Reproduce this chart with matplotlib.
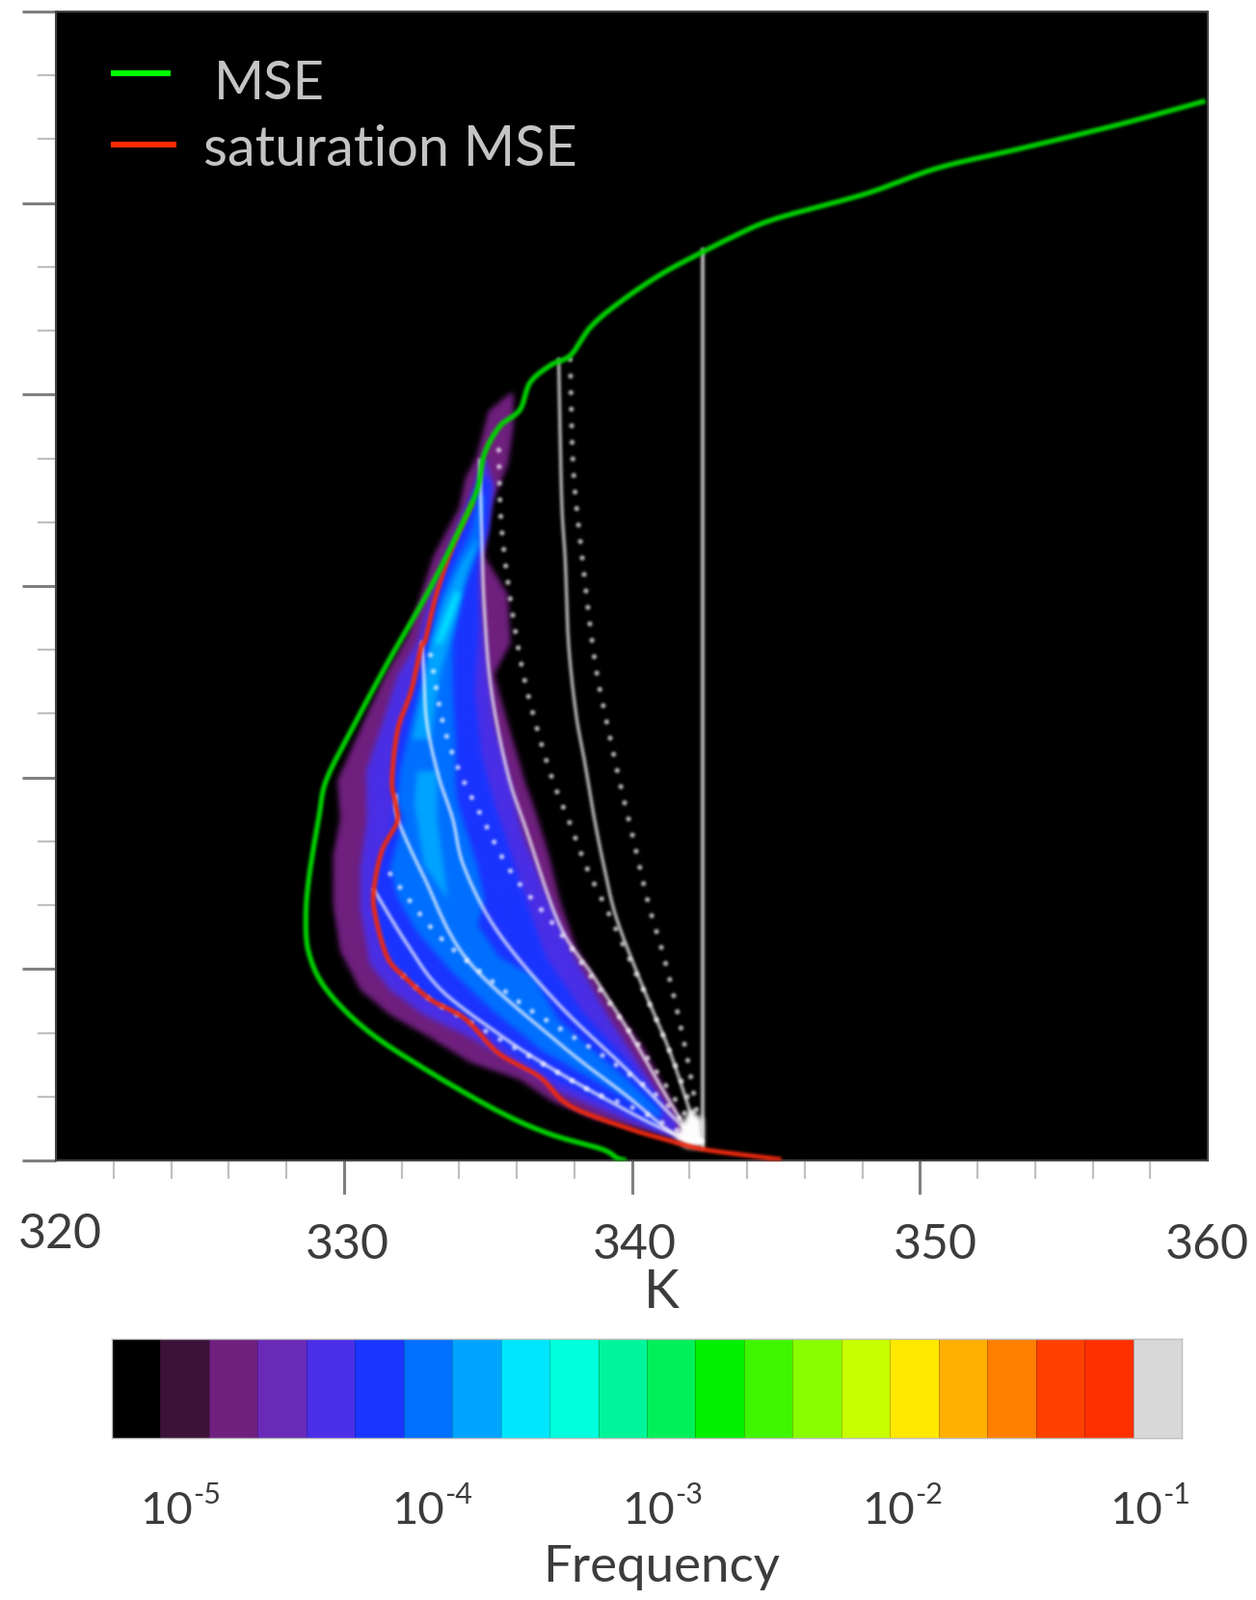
import numpy as np
import matplotlib
matplotlib.use("Agg")
import matplotlib.pyplot as plt
from matplotlib.colors import ListedColormap

plt.rcParams['font.family'] = ['Lato', 'DejaVu Sans']

W, H = 1303, 1660

# ---- curves: temperature-like energy (K) against height (km) ----
mse_k = [359.83,357.0,353.46,350.63,348.15,344.96,343.55,342.49,341.07,339.65,338.59,337.88,337.18,336.47,336.11,335.41,334.88,334.63,334.0,332.93,331.51,330.27,329.39,329.14,328.79,328.68,328.79,329.39,330.80,332.93,335.41,337.18,338.95,339.48,339.72]
mse_km = [16.59,16.24,15.85,15.55,15.15,14.75,14.48,14.24,13.90,13.47,13.07,12.62,12.46,12.19,11.76,11.50,11.07,10.51,9.87,8.91,7.79,6.75,5.96,5.40,4.44,3.80,3.24,2.68,2.04,1.40,0.76,0.41,0.18,0.04,0.01]

sat_k = [334.45,333.78,333.21,332.84,332.68,332.34,331.87,331.67,331.79,331.84,331.32,331.04,331.09,331.50,332.07,333.01,334.21,335.37,336.79,337.83,339.83,341.24,342.54,345.12]
sat_km = [10.29,9.62,8.87,8.17,8.04,7.36,6.75,5.95,5.60,5.30,4.85,4.24,3.84,3.19,2.89,2.52,2.22,1.68,1.31,0.86,0.51,0.32,0.17,0.02]

# solid plume profiles
plume0_k = [342.47,342.47]
plume0_km = [14.27,0.2]
plume1_k = [337.46,337.56,337.69,337.80,338.06,338.36,338.70,339.06,339.47,340.37,341.34,342.17,342.4]
plume1_km = [12.55,10.38,9.38,8.11,7.0,6.25,5.35,4.55,3.79,2.73,1.68,0.56,0.3]
plume2_k = [334.72,334.78,334.88,335.12,335.69,336.32,337.49,338.66,339.83,341.0,341.94,342.4]
plume2_km = [10.97,9.88,8.63,7.36,6.06,5.20,3.69,2.89,2.07,1.16,0.47,0.3]
plume3_k = [332.71,332.78,332.88,333.28,333.78,334.18,335.35,337.49,339.83,341.57,342.4]
plume3_km = [8.11,7.61,6.86,6.03,5.35,4.59,3.58,2.43,1.42,0.62,0.3]
plume4_k = [331.81,331.87,332.78,334.31,337.49,339.83,341.47,342.4]
plume4_km = [5.72,5.35,4.44,3.13,1.83,1.01,0.41,0.3]
plume5_k = [331.04,332.21,333.38,335.38,336.89,338.66,341.0,342.4]
plume5_km = [4.24,3.38,2.67,1.98,1.53,1.07,0.51,0.3]

# dotted plume profiles
dot1_k = [337.86,337.96,338.23,338.70,339.13,339.63,340.03,340.57,341.04,341.47,341.94,342.31]
dot1_km = [12.55,10.89,9.62,7.87,6.86,5.83,5.08,4.03,3.31,2.55,1.57,0.62]
dot2_k = [335.38,335.45,335.69,336.12,336.56,337.22,337.86,338.46,339.23,340.40,341.34,342.17]
dot2_km = [11.13,10.08,9.08,7.87,7.01,6.0,5.27,4.56,3.84,2.67,1.68,0.71]
dot3_k = [333.01,333.44,334.01,334.78,335.85,337.49,338.90,340.07,341.94]
dot3_km = [7.92,6.86,6.10,5.39,4.49,3.58,2.67,1.92,0.66]
dot4_k = [331.61,332.68,333.71,336.09,337.49,339.23,341.0,341.94]
dot4_km = [4.49,3.84,3.34,2.48,2.07,1.57,0.97,0.51]
dot5_k = [332.07,333.01,334.18,337.26,338.66,340.07,341.57]
dot5_km = [2.89,2.52,2.22,1.42,1.07,0.82,0.47]

# frequency regions: outlines (K, km)
purple_k = [335.69,335.02,334.62,334.21,334.01,333.11,332.68,332.21,331.44,330.77,329.77,329.87,329.63,329.63,329.87,330.57,331.61,333.01,334.41,336.09,337.26,338.66,341.0,341.97,
            341.57,340.40,339.23,338.06,337.49,337.12,336.56,336.35,335.69,335.22,335.79,335.69,334.88,335.12,335.69,335.89,335.89]
purple_km = [11.99,11.74,11.04,10.68,10.23,9.47,8.87,8.22,7.61,6.96,5.95,5.35,4.79,3.99,3.28,2.67,2.28,1.92,1.53,1.27,0.92,0.66,0.41,0.29,
             0.77,1.77,2.48,3.34,4.09,4.79,5.60,5.85,6.86,7.61,8.11,8.87,9.47,10.29,10.89,11.50,12.04]
indigo_k = [334.78,334.55,333.68,333.01,332.54,331.87,331.34,330.77,330.80,330.57,330.57,330.90,331.61,332.78,334.41,335.72,337.49,339.83,341.57,
            341.57,340.54,339.23,337.96,337.02,336.19,335.69,335.22,335.02,334.78,334.72,334.78,335.22,334.95]
indigo_km = [10.98,10.48,9.47,8.87,8.11,7.61,6.86,6.10,5.35,4.59,3.94,3.08,2.67,2.28,1.92,1.57,1.07,0.62,0.32,
             0.62,1.31,2.22,3.23,4.18,5.15,6.10,6.86,7.61,8.63,9.12,9.47,10.53,10.98]
blue_k = [334.72,334.11,333.55,333.21,332.88,332.54,332.21,331.77,331.67,331.74,331.61,331.14,331.04,331.27,331.84,333.01,334.65,335.72,337.49,339.23,341.0,
          341.0,339.83,338.29,337.02,336.39,335.79,335.22,334.78,334.55,334.68,334.68,335.02,335.12]
blue_km = [10.74,10.08,9.47,8.87,8.22,7.61,7.11,6.36,5.85,5.60,5.20,4.59,4.09,3.49,2.98,2.52,2.13,1.72,1.22,0.86,0.47,
           0.92,1.57,2.33,3.19,3.99,4.85,5.60,6.36,7.36,8.37,9.38,9.88,10.63]
azure_k = [334.72,334.45,333.78,333.34,333.01,332.78,332.34,331.94,331.84,332.07,331.61,331.84,332.54,333.71,335.12,336.89,339.23,341.0,
           341.0,339.83,338.66,337.49,336.56,335.38,334.65,334.88,334.65,333.95,333.88,333.88,333.78,333.78,334.11,334.68,334.88]
azure_km = [10.48,9.88,9.27,8.78,8.11,7.61,6.86,6.10,5.60,5.35,4.59,4.14,3.58,2.98,2.37,1.72,1.12,0.66,
            0.77,1.27,1.72,2.18,2.89,3.19,3.69,4.09,4.59,5.60,5.85,6.60,7.36,8.11,8.87,9.62,10.38]
sky_upper_k = [334.68,334.11,333.44,333.01,332.78,332.37,333.01,333.34,333.88,334.21,334.68]
sky_upper_km = [9.77,9.38,8.72,8.11,7.46,6.60,6.60,7.61,8.47,9.12,9.68]
sky_lower_k = [332.54,333.24,333.24,333.61,332.78,332.44]
sky_lower_km = [6.10,6.10,5.35,4.09,4.64,5.60]
cyan_k = [333.85,333.51,333.18,333.38,333.78,334.05]
cyan_km = [8.90,8.52,8.10,8.10,8.52,8.90]
peak_k = [342.47,342.47,342.0,341.5,341.9]
peak_km = [0.2,0.65,0.8,0.35,0.2]

# ---- labels ----
x_major = [330, 340, 350]
x_tick_labels = ['320', '330', '340', '350', '360']
freq_labels = ['-5', '-4', '-3', '-2', '-1']
cbar_colors = ['#000000','#3c1238','#70207f','#6a2ab8','#4a2fe6','#1a35ff','#0070ff','#00a4ff',
               '#00e6ff','#00ffdc','#00f59a','#00f05a','#00f000','#40f500','#88ff00','#c8ff00',
               '#ffe800','#ffb000','#ff7f00','#ff4000','#ff3000','#d8d8d8']


def rounded(xs, ys, n=12):
    """Round the corners of a read-off polyline for drawing; it still passes through each value."""
    p = np.column_stack([xs, ys]).astype(float)
    if len(p) < 3:
        return p[:, 0], p[:, 1]
    q = np.vstack([2 * p[0] - p[1], p, 2 * p[-1] - p[-2]])
    t = np.linspace(0, 1, n, endpoint=False)[:, None]
    out = []
    for i in range(1, len(q) - 2):
        a, b, c, d = q[i - 1], q[i], q[i + 1], q[i + 2]
        out.append(0.5 * (2 * b + (c - a) * t + (2 * a - 5 * b + 4 * c - d) * t ** 2 + (3 * b - a - 3 * c + d) * t ** 3))
    out.append(p[-1:])
    out = np.vstack(out)
    return out[:, 0], out[:, 1]


def make_blur(sigma_px):
    r = int(np.ceil(3 * sigma_px))
    kernel = np.exp(-0.5 * (np.arange(-r, r + 1) / sigma_px) ** 2)
    kernel /= kernel.sum()

    def conv(a, axis):
        a = np.moveaxis(a, axis, -1)
        n = a.shape[-1] + 2 * r
        f = np.fft.rfft(a, n=n, axis=-1) * np.fft.rfft(kernel, n=n)
        out = np.fft.irfft(f, n=n, axis=-1)[..., r:r + a.shape[-1]]
        return np.moveaxis(out, -1, axis)

    def flt(img, dpi):
        pad = 2 * r
        p = np.pad(img, ((pad, pad), (pad, pad), (0, 0)))
        a = p[..., 3:4]
        pm = np.concatenate([p[..., :3] * a, a], axis=2)
        pm = conv(conv(pm, 0), 1)
        al = np.clip(pm[..., 3:4], 0, 1)
        rgb = np.clip(pm[..., :3] / np.maximum(al, 1e-4), 0, 1)
        return np.concatenate([rgb, al], axis=2), -pad, -pad
    return flt


def fx(px):
    return px / W


def fy(py):
    return 1 - py / H


fig = plt.figure(figsize=(W / 100, H / 100), dpi=100, facecolor='white')
ax = fig.add_axes([fx(58), fy(1204), fx(1253) - fx(58), fy(12) - fy(1204)], facecolor='black')
ax.set_xlim(320, 360)
ax.set_ylim(0, 18)
ax.set_xticks(x_major)
ax.set_xticks(np.arange(322, 360, 2), minor=True)
ax.set_yticks(np.arange(0, 19, 3))
ax.set_yticks(np.arange(0, 19, 1), minor=True)
ax.tick_params(which='major', length=25, width=2.2, color='#808080', labelbottom=False, labelleft=False)
ax.tick_params(which='minor', length=14, width=1.6, color='#c0c0c0')
for s in ax.spines.values():
    s.set_color('#444444')
    s.set_linewidth(1.5)

field_blur = make_blur(2.8)
line_blur = make_blur(1.4)

layers = [(purple_k, purple_km, cbar_colors[2]), (indigo_k, indigo_km, cbar_colors[4]),
          (blue_k, blue_km, cbar_colors[5]), (azure_k, azure_km, cbar_colors[6]),
          (sky_upper_k, sky_upper_km, cbar_colors[7]), (sky_lower_k, sky_lower_km, cbar_colors[7]),
          (cyan_k, cyan_km, cbar_colors[8]), (peak_k, peak_km, '#ffffff')]
for xs, ys, c in layers:
    for p in ax.fill(xs, ys, color=c, lw=0, zorder=2):
        p.set_agg_filter(field_blur)

solid = [(plume1_k, plume1_km), (plume2_k, plume2_km), (plume3_k, plume3_km),
         (plume4_k, plume4_km), (plume5_k, plume5_km)]
for xs, ys in solid:
    l, = ax.plot(*rounded(xs, ys), color='white', alpha=0.72, lw=2.5, zorder=3, solid_joinstyle='round')
    l.set_agg_filter(line_blur)
l, = ax.plot(plume0_k, plume0_km, color='white', alpha=0.75, lw=2.8, zorder=3)
l.set_agg_filter(line_blur)

dotted = [(dot1_k, dot1_km), (dot2_k, dot2_km), (dot3_k, dot3_km), (dot4_k, dot4_km), (dot5_k, dot5_km)]
for xs, ys in dotted:
    l, = ax.plot(*rounded(xs, ys), color='white', alpha=0.75, lw=3.8, zorder=3,
                 linestyle=(0, (0.01, 3.25)), dash_capstyle='round')
    l.set_agg_filter(line_blur)

l, = ax.plot(*rounded(sat_k, sat_km), color='#ee2a10', lw=3.4, zorder=4, solid_joinstyle='round')
l.set_agg_filter(line_blur)
l, = ax.plot(*rounded(mse_k, mse_km), color='#00d400', lw=3.8, zorder=5, solid_joinstyle='round')
l.set_agg_filter(line_blur)

# legend
ax.plot([0.0475, 0.0995], [0.9465, 0.9465], transform=ax.transAxes, color='#00ff00', lw=4.4, solid_capstyle='butt', zorder=6)
ax.plot([0.0475, 0.1045], [0.8845, 0.8845], transform=ax.transAxes, color='#ff2a00', lw=4.4, solid_capstyle='butt', zorder=6)
fig.text(fx(222), fy(103), 'MSE', color='#c4c4c4', fontsize=40.5, ha='left', va='baseline', zorder=7)
fig.text(fx(211), fy(172), 'saturation MSE', color='#c4c4c4', fontsize=41.5, ha='left', va='baseline', zorder=7)

# axis texts
x_label_px = [(62, 1295), (360, 1306), (658, 1306), (970, 1306), (1252, 1306)]
for (px, py), t in zip(x_label_px, x_tick_labels):
    fig.text(fx(px), fy(py), t, fontsize=36, color='#3c3c3c', ha='center', va='baseline')
fig.text(fx(686), fy(1357), 'K', fontsize=40, color='#3c3c3c', ha='center', va='baseline')

# colour bar
cax = fig.add_axes([fx(116), fy(1492), fx(1226) - fx(116), fy(1389) - fy(1492)])
levels = np.arange(len(cbar_colors) + 1)
cax.pcolormesh(levels, [0, 1], np.arange(len(cbar_colors)).reshape(1, -1),
               cmap=ListedColormap(cbar_colors), vmin=0, vmax=len(cbar_colors) - 1,
               edgecolors=(0, 0, 0, 0.22), linewidth=0.7)
cax.set_xticks([])
cax.set_yticks([])
for s in cax.spines.values():
    s.set_color('#c0c0c0')
    s.set_linewidth(1)

freq_px = [173, 434, 673, 922, 1179]
for px, t in zip(freq_px, freq_labels):
    fig.text(fx(px), fy(1581), '10', fontsize=34, color='#3c3c3c', ha='center', va='baseline')
    fig.text(fx(px + 27), fy(1560), t, fontsize=22, color='#3c3c3c', ha='left', va='baseline')
fig.text(fx(686), fy(1641), 'Frequency', fontsize=38, color='#3c3c3c', ha='center', va='baseline')

fig.savefig('out.png', dpi=100)
